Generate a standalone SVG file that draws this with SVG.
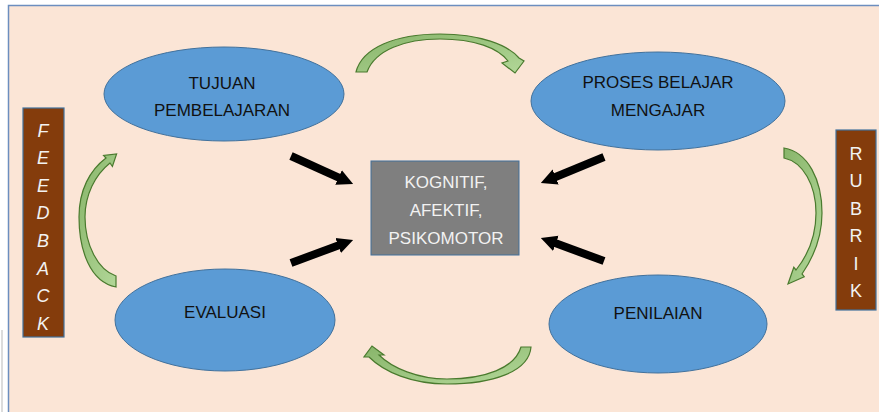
<svg xmlns="http://www.w3.org/2000/svg" width="879" height="412" viewBox="0 0 879 412">
<style>
.ell{fill:#5B9BD5;stroke:#41719C;stroke-width:1}
.lbl{font-family:"Liberation Sans",Arial,sans-serif;font-size:17px;fill:#111;text-anchor:middle}
.wl{fill:#F2F2F2}
.box{fill:#843C0C;stroke:#41719C;stroke-width:1.2}
.vl{font-family:"Liberation Sans",Arial,sans-serif;font-size:18px;fill:#F2F2F2;text-anchor:middle}
.garrow{fill:url(#g);stroke:#4A7A2E;stroke-width:1.2}
.barrow{stroke:#000;stroke-width:8;fill:none;marker-end:url(#bh)}
</style>
<defs>
<linearGradient id="g" x1="0" y1="0" x2="1" y2="1">
<stop offset="0" stop-color="#88B56A"/>
<stop offset="1" stop-color="#B2D798"/>
</linearGradient>
<marker id="bh" viewBox="0 0 10 10" refX="0.5" refY="5" markerWidth="2" markerHeight="2.8" orient="auto" markerUnits="strokeWidth">
<path d="M0,0 L10,5 L0,10 Z" fill="#000"/>
</marker>
</defs>
<rect x="0" y="0" width="879" height="412" fill="#FFFFFF"/>
<line x1="2" y1="330" x2="2" y2="412" stroke="#D0D0D0" stroke-width="1.5"/>
<rect x="8.5" y="5.5" width="880" height="420" fill="#FBE5D6" stroke="#6C8EBF" stroke-width="1.5"/>

<g id="connectors">
<path class="garrow" d="M356,72 C362,48 395,34 440,34 C480,34 508,45 519,58 L524,61 L515,73 L502,63 L508,61 C498,48 475,39 440,39 C405,39 375,50 367,72 Z"/>
<path class="garrow" d="M784,148 C808,152 822,180 822,213 C822,238 813,258 802,274 L804.2,276.7 L788,284 L793.8,267.3 L796,270 C808,255 816,235 816,213 C816,185 803,162 784,158 Z"/>
<path class="garrow" d="M531,347 C529,372 492,384 447,384 C412,384 384,372 369,357 L364,357 L372,346 L384,355 L379,355 C392,368 418,379 447,379 C485,379 515,368 521,347 Z"/>
<path class="garrow" d="M116,287 C90,282 79,250 79,217 C79,190 90,170 106,158 L103.6,155.5 L116.6,154 L112.4,166.5 L110,163 C95,175 85,195 85,217 C85,245 98,270 116,276 Z"/>
<line class="barrow" x1="291" y1="156" x2="339.3" y2="177.8"/>
<line class="barrow" x1="291" y1="263" x2="338.9" y2="245.2"/>
<line class="barrow" x1="604" y1="157" x2="554.9" y2="177.3"/>
<line class="barrow" x1="604" y1="261" x2="555.1" y2="243.1"/>
</g>

<g id="tujuan">
<ellipse class="ell" cx="224" cy="94" rx="120" ry="47"/>
<text class="lbl" x="222" y="89">TUJUAN</text>
<text class="lbl" x="222" y="116">PEMBELAJARAN</text>
</g>
<g id="proses">
<ellipse class="ell" cx="658" cy="101" rx="127" ry="49"/>
<text class="lbl" x="658" y="88">PROSES BELAJAR</text>
<text class="lbl" x="658" y="116">MENGAJAR</text>
</g>
<g id="evaluasi">
<ellipse class="ell" cx="225" cy="320" rx="110" ry="51"/>
<text class="lbl" x="225" y="318">EVALUASI</text>
</g>
<g id="penilaian">
<ellipse class="ell" cx="658" cy="324" rx="109" ry="49"/>
<text class="lbl" x="658" y="319">PENILAIAN</text>
</g>
<g id="center">
<rect x="371" y="161" width="148" height="94" fill="#7F7F7F" stroke="#41719C" stroke-width="1"/>
<text class="lbl wl" x="446" y="188">KOGNITIF,</text>
<text class="lbl wl" x="446" y="216">AFEKTIF,</text>
<text class="lbl wl" x="446" y="244">PSIKOMOTOR</text>
</g>
<g id="feedback">
<rect class="box" x="23" y="108" width="41" height="229"/>
<text class="vl" x="43" y="136.5" font-style="italic">F</text>
<text class="vl" x="43" y="164.1" font-style="italic">E</text>
<text class="vl" x="43" y="191.7" font-style="italic">E</text>
<text class="vl" x="43" y="219.3" font-style="italic">D</text>
<text class="vl" x="43" y="246.9" font-style="italic">B</text>
<text class="vl" x="43" y="274.5" font-style="italic">A</text>
<text class="vl" x="43" y="302.1" font-style="italic">C</text>
<text class="vl" x="43" y="329.7" font-style="italic">K</text>
</g>
<g id="rubrik">
<rect class="box" x="836" y="130" width="40" height="180"/>
<text class="vl" x="856" y="159.5">R</text>
<text class="vl" x="856" y="187">U</text>
<text class="vl" x="856" y="214.5">B</text>
<text class="vl" x="856" y="242">R</text>
<text class="vl" x="856" y="269.5">I</text>
<text class="vl" x="856" y="297">K</text>
</g>
</svg>
